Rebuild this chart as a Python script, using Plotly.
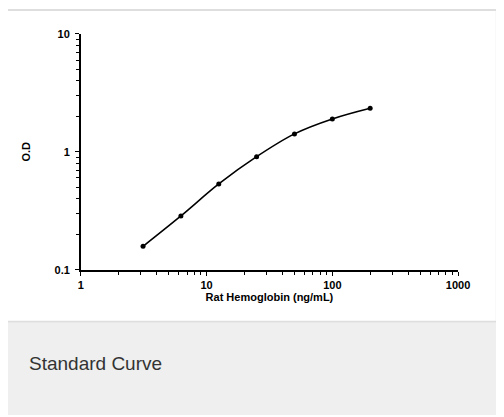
import plotly.graph_objects as go

# Data
concentration = [3.125, 6.25, 12.5, 25, 50, 100, 200]
od_values = [0.158, 0.286, 0.534, 0.91, 1.42, 1.90, 2.34]
x_tick_vals = [1, 10, 100, 1000]
x_tick_text = ["1", "10", "100", "1000"]
y_tick_vals = [0.1, 1, 10]
y_tick_text = ["0.1", "1", "10"]

# page body has an 8px default margin; figure placed accordingly
OFF = 8
W, H = 504 - OFF, 417 - OFF
def px(x):
    return (x - OFF) / W
def py(y):
    return 1 - (y - OFF) / H

fig = go.Figure()
fig.add_trace(go.Scatter(
    x=concentration, y=od_values, mode="lines+markers",
    line=dict(color="black", width=1.6, shape="spline"),
    marker=dict(color="black", size=5),
    showlegend=False, hoverinfo="skip",
))

fig.update_layout(
    width=W, height=H,
    margin=dict(l=0, r=0, t=0, b=0),
    paper_bgcolor="white", plot_bgcolor="rgba(0,0,0,0)",
    xaxis=dict(
        type="log", range=[0, 3], domain=[px(80), px(469)],
        showgrid=False, zeroline=False, showline=True, linecolor="black", linewidth=1.5,
        tickvals=x_tick_vals, ticktext=x_tick_text,
        ticks="outside", ticklen=4, tickwidth=1.2, tickcolor="black",
        tickfont=dict(family="Arial, Liberation Sans, sans-serif", size=11, color="black", weight="bold"),
        minor=dict(tickvals=[v * m for v in [1, 10, 100] for m in range(2, 10)],
                   ticks="outside", ticklen=3, tickwidth=1, tickcolor="black", showgrid=False),
        title=dict(text="<b>Rat Hemoglobin (ng/mL)</b>", font=dict(family="Arial, Liberation Sans, sans-serif", size=11, color="black"), standoff=4),
        anchor="y",
    ),
    yaxis=dict(
        type="log", range=[-1, 1], domain=[py(271.5), py(28.5)],
        showgrid=False, zeroline=False, showline=True, linecolor="black", linewidth=1.5,
        tickvals=y_tick_vals, ticktext=y_tick_text,
        ticks="outside", ticklen=4, tickwidth=1.2, tickcolor="black", ticklabelstandoff=3,
        tickfont=dict(family="Arial, Liberation Sans, sans-serif", size=11, color="black", weight="bold"),
        minor=dict(tickvals=[v * m for v in [0.1, 1] for m in range(2, 10)],
                   ticks="outside", ticklen=3, tickwidth=1, tickcolor="black", showgrid=False),
        title=dict(text="<b>O.D</b>", font=dict(family="Arial, Liberation Sans, sans-serif", size=11, color="black"), standoff=22),
        anchor="x",
    ),
    shapes=[
        dict(type="rect", xref="paper", yref="paper", x0=-0.01, x1=1.01, y0=py(325), y1=1.01,
             fillcolor="white", line=dict(color="#dedede", width=2), layer="below"),
        dict(type="rect", xref="paper", yref="paper", x0=-0.01, x1=1.01, y0=-0.01, y1=py(326),
             fillcolor="#eeefee", line=dict(width=0), layer="below"),
    ],
    annotations=[
        dict(text="Standard Curve", xref="paper", yref="paper", x=px(25), y=py(368),
             xanchor="left", yanchor="middle", showarrow=False,
             font=dict(family="Arial, Liberation Sans, sans-serif", size=19, color="#333333")),
    ],
)

fig.write_html("out.html")
